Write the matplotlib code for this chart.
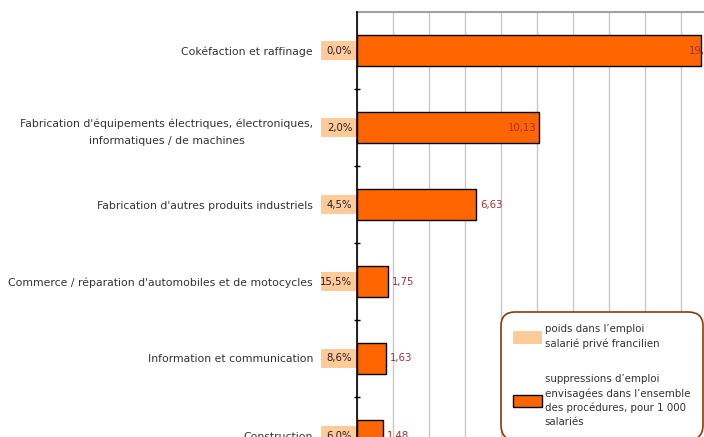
import matplotlib.pyplot as plt
from matplotlib.patches import Patch, Rectangle
from matplotlib.transforms import blended_transform_factory

# data
secteurs = ["Cokéfaction et raffinage",
            "Fabrication d'équipements électriques, électroniques,\ninformatiques / de machines",
            "Fabrication d'autres produits industriels",
            "Commerce / réparation d'automobiles et de motocycles",
            "Information et communication",
            "Construction"]
suppressions = [19.08, 10.13, 6.63, 1.75, 1.63, 1.48]
poids = ["0,0%", "2,0%", "4,5%", "15,5%", "8,6%", "6,0%"]

c_bar = "#FF6600"
c_poids = "#FFCC99"
c_val = "#A03030"
c_txt = "#333333"

fig = plt.figure(figsize=(7.04, 4.37), dpi=100)
# the original is cropped: the plot area runs past the right and bottom edges
ax = fig.add_axes([356.7 / 704, -37 / 437, 360.6 / 704, 462 / 437])

ypos = list(range(len(secteurs)))
ax.barh(ypos, suppressions, height=0.4, color=c_bar, edgecolor="black", linewidth=1, zorder=3)

ax.set_xlim(0, 20)
ax.set_ylim(len(secteurs) - 0.5, -0.5)
ax.set_xticks(range(0, 21, 2))
ax.tick_params(axis="x", length=0, labelbottom=False)
ax.grid(axis="x", color="#c8c8c8", linewidth=1, zorder=0)

ax.set_yticks(ypos)
ax.set_yticklabels(secteurs, fontsize=7.8, color=c_txt, linespacing=1.9)
ax.set_yticks([y + 0.5 for y in ypos], minor=True)
ax.tick_params(axis="y", which="major", length=0, pad=31.5)
ax.tick_params(axis="y", which="minor", length=5, direction="inout", width=1, color="black")
for lab in ax.get_yticklabels():
    lab.set_multialignment("center")

for s in ["right", "bottom"]:
    ax.spines[s].set_visible(False)
ax.spines["top"].set_color("#a0a0a0")
ax.spines["top"].set_linewidth(1.5)
ax.spines["left"].set_color("black")
ax.spines["left"].set_linewidth(1.2)
ax.spines["left"].set_zorder(4)

# weight in private employment, in light orange boxes left of the axis
tr = blended_transform_factory(ax.transAxes, ax.transData)
bw = 36 / 360.6
for y, p in zip(ypos, poids):
    ax.add_patch(Rectangle((-bw, y - 0.12), bw, 0.24, transform=tr,
                           facecolor=c_poids, edgecolor="none", clip_on=False, zorder=2))
    ax.text(-4.5 / 360.6, y, p, transform=tr, ha="right", va="center",
            fontsize=7.3, color="#2a1a2a", zorder=5)

# value labels
for y, v in zip(ypos, suppressions):
    s = ("%.2f" % v).replace(".", ",")
    if v > 15:
        # label runs off the cropped edge in the original
        ax.text(v - 0.65, y, s, ha="left", va="center", fontsize=7.3, color=c_val, zorder=5)
    elif v > 10:
        ax.text(v - 0.15, y, s, ha="right", va="center", fontsize=7.3, color=c_val, zorder=5)
    else:
        ax.text(v + 0.22, y, s, ha="left", va="center", fontsize=7.3, color=c_val, zorder=5)

handles = [Patch(facecolor=c_poids, edgecolor="none"),
           Patch(facecolor=c_bar, edgecolor="black", linewidth=1)]
labels = ["poids dans l\u2019emploi\nsalarié privé francilien",
          "suppressions d\u2019emploi\nenvisagées dans l\u2019ensemble\ndes procédures, pour 1 000\nsalariés"]
leg = fig.legend(handles, labels, loc="upper left", bbox_to_anchor=(498 / 704, 1 - 309 / 437),
                 fontsize=7.4, frameon=True, fancybox=True, handlelength=2.8, handleheight=1.5,
                 labelspacing=2.4, borderpad=1.0, handletextpad=0.25, labelcolor=c_txt)
for t in leg.get_texts():
    t.set_linespacing(1.5)
frame = leg.get_frame()
frame.set_edgecolor("#8B3A0F")
frame.set_linewidth(1.2)
frame.set_facecolor("white")
frame.set_alpha(1)
frame.set_boxstyle("round", pad=0.2, rounding_size=1.4)

fig.savefig("out.png", dpi=100)
